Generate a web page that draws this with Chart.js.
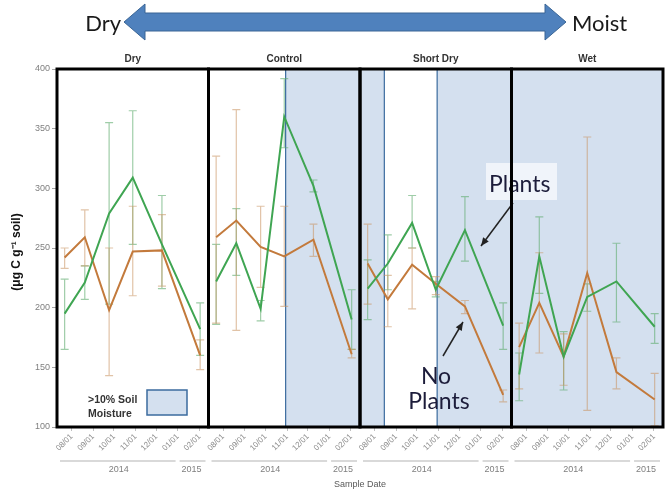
<!DOCTYPE html>
<html>
<head>
<meta charset="utf-8">
<script src="https://cdn.jsdelivr.net/npm/chart.js@4.4.1/dist/chart.umd.min.js"></script>
<style>
  html, body { margin: 0; padding: 0; background: #ffffff; }
  #wrap { position: relative; width: 665px; height: 490px; }
</style>
</head>
<body>
<div id="wrap"><canvas id="chart" width="665" height="490"></canvas></div>
<script>
// Treatments, one panel each
const panelNames = ['Dry', 'Control', 'Short Dry', 'Wet'];
// Sampling days, counted from 2014-08-01
const sampleDays = [-10, 19, 54, 88, 130, 185];
// Month ticks (days from 2014-08-01) and their labels
const tickDays = [0, 31, 61, 92, 122, 153, 184];
const tickLabels = ['08/01', '09/01', '10/01', '11/01', '12/01', '01/01', '02/01'];
const yearLabels = ['2014', '2015'];
const yTicks = [100, 150, 200, 250, 300, 350, 400];

// Microbial biomass C, with plants (mean, lower and upper error bound) per panel
const plantsMean = [
  [195, 221, 279, 309, 253, 182],
  [222, 254, 199, 360, 302, 190],
  [216, 237, 271, 215, 265, 185],
  [144, 243, 159, 209, 222, 184]
];
const plantsLow = [
  [165, 207, 203, 253, 216, 160],
  [186, 227, 189, 334, 297, 165],
  [190, 215, 250, 209, 239, 165],
  [122, 212, 131, 197, 188, 170]
];
const plantsHigh = [
  [224, 235, 355, 365, 294, 204],
  [253, 283, 206, 392, 307, 215],
  [240, 261, 294, 222, 293, 204],
  [162, 276, 180, 220, 254, 195]
];

// Without plants
const noPlantsMean = [
  [242, 259, 198, 247, 248, 160],
  [259, 273, 251, 243, 257, 161],
  [237, 207, 236, 220, 201, 127],
  [167, 204, 159, 229, 146, 123]
];
const noPlantsLow = [
  [233, 235, 143, 210, 218, 148],
  [187, 181, 217, 201, 243, 158],
  [203, 184, 199, 211, 195, 121],
  [132, 162, 135, 114, 132, 101]
];
const noPlantsHigh = [
  [250, 282, 250, 285, 278, 173],
  [327, 366, 285, 285, 270, 165],
  [270, 227, 250, 226, 206, 131],
  [187, 246, 178, 343, 158, 145]
];

// Periods with >10% soil moisture, per panel, as [startDay, endDay]
const moistSpans = [
  [],
  [[90, 197]],
  [[-21, 14], [90, 197]],
  [[-21, 197]]
];

// Each panel covers days -21 .. 197 on a shared linear axis
const DAY0 = -21, DAY1 = 197;
const SPAN = DAY1 - DAY0;
const toX = (panel, day) => panel * SPAN + (day - DAY0);

function seriesPoints(means) {
  const pts = [];
  means.forEach((row, p) => {
    row.forEach((v, i) => pts.push({ x: toX(p, sampleDays[i]), y: v }));
    pts.push({ x: toX(p, DAY1), y: null }); // break the line between panels
  });
  return pts;
}

const GREEN = '#3fa552';
const BROWN = '#c37a3c';
const GREEN_ERR = 'rgba(95,172,110,0.6)';
const BROWN_ERR = 'rgba(200,145,95,0.55)';
const SHADE = '#d4e0ef';
const SHADE_EDGE = '#3b6b9e';

const tickValues = [];
panelNames.forEach((_, p) => tickDays.forEach(d => tickValues.push(toX(p, d))));

function labelFor(v) {
  const d = ((v % SPAN) + SPAN) % SPAN + DAY0;
  const i = tickDays.findIndex(t => Math.abs(t - d) < 0.5);
  return i >= 0 ? tickLabels[i] : '';
}

const errorSets = [
  { low: plantsLow, high: plantsHigh, color: GREEN_ERR },
  { low: noPlantsLow, high: noPlantsHigh, color: BROWN_ERR }
];

function arrow(ctx, x0, y0, x1, y1) {
  const a = Math.atan2(y1 - y0, x1 - x0);
  ctx.beginPath();
  ctx.moveTo(x0, y0);
  ctx.lineTo(x1, y1);
  ctx.stroke();
  ctx.beginPath();
  ctx.moveTo(x1, y1);
  ctx.lineTo(x1 - 9 * Math.cos(a - 0.4), y1 - 9 * Math.sin(a - 0.4));
  ctx.lineTo(x1 - 9 * Math.cos(a + 0.4), y1 - 9 * Math.sin(a + 0.4));
  ctx.closePath();
  ctx.fill();
}

const panelsPlugin = {
  id: 'panels',
  beforeDatasetsDraw(chart) {
    const { ctx, chartArea: a, scales: { x, y } } = chart;
    ctx.save();
    // moist periods
    moistSpans.forEach((spans, p) => {
      spans.forEach(([d0, d1]) => {
        const x0 = x.getPixelForValue(toX(p, d0));
        const x1 = x.getPixelForValue(toX(p, d1));
        ctx.fillStyle = SHADE;
        ctx.fillRect(x0, a.top, x1 - x0, a.bottom - a.top);
        ctx.strokeStyle = SHADE_EDGE;
        ctx.lineWidth = 1.2;
        ctx.strokeRect(x0, a.top, x1 - x0, a.bottom - a.top);
      });
    });
    // error bars
    ctx.beginPath();
    ctx.rect(a.left, a.top, a.right - a.left, a.bottom - a.top);
    ctx.clip();
    ctx.lineWidth = 1.2;
    errorSets.forEach(set => {
      ctx.strokeStyle = set.color;
      set.low.forEach((row, p) => {
        row.forEach((lo, i) => {
          const hi = set.high[p][i];
          const px = x.getPixelForValue(toX(p, sampleDays[i]));
          const y0 = y.getPixelForValue(lo), y1 = y.getPixelForValue(hi);
          ctx.beginPath();
          ctx.moveTo(px, y0); ctx.lineTo(px, y1);
          ctx.moveTo(px - 4, y0); ctx.lineTo(px + 4, y0);
          ctx.moveTo(px - 4, y1); ctx.lineTo(px + 4, y1);
          ctx.stroke();
        });
      });
    });
    ctx.restore();
  },
  afterDatasetsDraw(chart) {
    const { ctx, chartArea: a, scales: { x } } = chart;
    ctx.save();
    // "Plants" / "No Plants" call-outs
    ctx.fillStyle = 'rgba(255,255,255,0.65)';
    ctx.fillRect(486, 163, 71, 37);
    ctx.fillStyle = '#1c1c3a';
    ctx.font = '23px Lato, "Open Sans", sans-serif';
    ctx.textBaseline = 'alphabetic';
    ctx.textAlign = 'left';
    ctx.fillText('Plants', 489, 192);
    ctx.textAlign = 'center';
    ctx.fillText('No', 436, 384);
    ctx.fillText('Plants', 439, 409);
    ctx.strokeStyle = '#222';
    ctx.fillStyle = '#222';
    ctx.lineWidth = 1.5;
    arrow(ctx, 513, 203, 481, 246);
    arrow(ctx, 443, 356, 463, 322);

    // legend for the shaded periods
    ctx.fillStyle = SHADE;
    ctx.fillRect(147, 390, 40, 25);
    ctx.strokeStyle = SHADE_EDGE;
    ctx.lineWidth = 1.5;
    ctx.strokeRect(147, 390, 40, 25);
    ctx.fillStyle = '#333';
    ctx.font = 'bold 10.5px "Liberation Sans", Arial, sans-serif';
    ctx.textAlign = 'left';
    ctx.fillText('>10% Soil', 88, 403);
    ctx.fillText('Moisture', 88, 417);

    // panel frames
    ctx.strokeStyle = '#000';
    ctx.lineWidth = 3;
    panelNames.forEach((_, p) => {
      const x0 = x.getPixelForValue(toX(p, DAY0));
      const x1 = x.getPixelForValue(toX(p, DAY1));
      ctx.strokeRect(x0, a.top, x1 - x0, a.bottom - a.top);
    });
    ctx.restore();
  },
  afterDraw(chart) {
    const { ctx, chartArea: a, scales: { x } } = chart;
    ctx.save();
    // panel titles
    ctx.fillStyle = '#333';
    ctx.font = 'bold 10px "Liberation Sans", Arial, sans-serif';
    ctx.textAlign = 'center';
    ctx.textBaseline = 'alphabetic';
    panelNames.forEach((name, p) => {
      const cx = (x.getPixelForValue(toX(p, DAY0)) + x.getPixelForValue(toX(p, DAY1))) / 2;
      ctx.fillText(name, cx, 62);
    });

    // year groups under the month ticks
    ctx.font = '9px "Liberation Sans", Arial, sans-serif';
    ctx.fillStyle = '#7f7f7f';
    panelNames.forEach((_, p) => {
      const xs = x.getPixelForValue(toX(p, DAY0)) + 3;
      const xm = x.getPixelForValue(toX(p, 152.5));
      const xe = x.getPixelForValue(toX(p, DAY1)) - 3;
      ctx.strokeStyle = '#d9d9d9';
      ctx.lineWidth = 2;
      ctx.beginPath();
      ctx.moveTo(xs, 461); ctx.lineTo(xm - 2, 461);
      ctx.moveTo(xm + 2, 461); ctx.lineTo(xe, 461);
      ctx.stroke();
      ctx.fillText(yearLabels[0], (xs + xm) / 2, 472);
      ctx.fillText(yearLabels[1], (xm + xe) / 2, 472);
    });
    ctx.fillStyle = '#595959';
    ctx.fillText('Sample Date', 360, 487);

    // y axis title
    ctx.save();
    ctx.translate(20, 252);
    ctx.rotate(-Math.PI / 2);
    ctx.fillStyle = '#111';
    ctx.font = 'bold 12px "Liberation Sans", Arial, sans-serif';
    ctx.fillText('(\u03bcg C g\u207b\u00b9 soil)', 0, 0);
    ctx.restore();

    // Dry <-> Moist header arrow
    ctx.fillStyle = '#4f81bd';
    ctx.strokeStyle = '#3a6595';
    ctx.lineWidth = 1;
    ctx.beginPath();
    ctx.moveTo(124, 22);
    ctx.lineTo(145, 4);
    ctx.lineTo(145, 13);
    ctx.lineTo(545, 13);
    ctx.lineTo(545, 4);
    ctx.lineTo(566, 22);
    ctx.lineTo(545, 40);
    ctx.lineTo(545, 31);
    ctx.lineTo(145, 31);
    ctx.lineTo(145, 40);
    ctx.closePath();
    ctx.fill();
    ctx.stroke();
    ctx.fillStyle = '#1a1a1a';
    ctx.font = '22px Lato, "Open Sans", sans-serif';
    ctx.textAlign = 'right';
    ctx.fillText('Dry', 121, 31);
    ctx.textAlign = 'left';
    ctx.fillText('Moist', 572, 31);
    ctx.restore();
  }
};

new Chart(document.getElementById('chart'), {
  type: 'line',
  data: {
    datasets: [
      {
        label: 'Plants',
        data: seriesPoints(plantsMean),
        borderColor: GREEN,
        backgroundColor: GREEN,
        borderWidth: 2,
        pointRadius: 0,
        tension: 0,
        spanGaps: false
      },
      {
        label: 'No Plants',
        data: seriesPoints(noPlantsMean),
        borderColor: BROWN,
        backgroundColor: BROWN,
        borderWidth: 2,
        pointRadius: 0,
        tension: 0,
        spanGaps: false
      }
    ]
  },
  options: {
    responsive: false,
    devicePixelRatio: 1,
    animation: false,
    layout: { padding: { left: 0, right: 2, top: 69, bottom: 0 } },
    plugins: { legend: { display: false }, tooltip: { enabled: false }, title: { display: false } },
    scales: {
      x: {
        type: 'linear',
        min: 0,
        max: SPAN * panelNames.length,
        afterBuildTicks: s => { s.ticks = tickValues.map(v => ({ value: v })); },
        afterFit: s => { s.height = 63; },
        grid: { drawOnChartArea: false, tickLength: 4, color: '#bfbfbf' },
        border: { display: false },
        ticks: {
          autoSkip: false,
          minRotation: 45,
          maxRotation: 45,
          padding: 1,
          color: '#8a8a8a',
          font: { size: 8, family: '"Liberation Sans", Arial, sans-serif' },
          callback: v => labelFor(v)
        }
      },
      y: {
        min: 100,
        max: 400,
        afterBuildTicks: s => { s.ticks = yTicks.map(v => ({ value: v })); },
        afterFit: s => { s.width = 57; },
        grid: { drawOnChartArea: false, tickLength: 5, color: '#a6a6a6' },
        border: { display: false },
        ticks: {
          padding: 2,
          color: '#7f7f7f',
          font: { size: 9, family: '"Liberation Sans", Arial, sans-serif' }
        }
      }
    }
  },
  plugins: [panelsPlugin]
});
</script>
</body>
</html>
